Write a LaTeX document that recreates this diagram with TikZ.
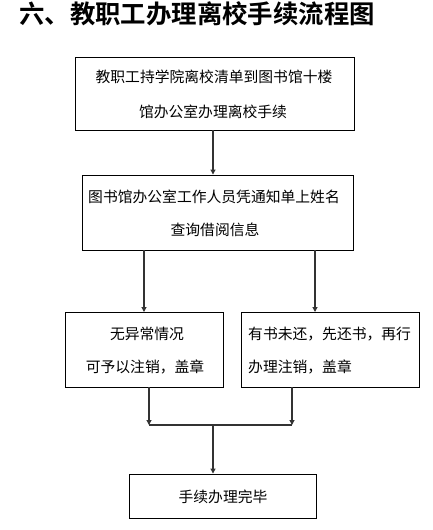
\documentclass[tikz,border=0pt]{standalone}
\usepackage{fontspec}
\setmainfont{Noto Sans CJK SC}
\newfontfamily\titlefont{Noto Sans CJK SC Bold}
\usetikzlibrary{arrows.meta}
\begin{document}
\begin{tikzpicture}[x=1pt,y=-1pt,
  box/.style={draw=black,line width=0.9pt,inner sep=0pt},
  txt/.style={font=\fontsize{14.8}{14.8}\selectfont,inner sep=0pt,anchor=center},
  conn/.style={draw=black!80,line width=1.1pt},
  arr/.style={conn,-{Triangle[length=5pt,width=5pt]}}]
\useasboundingbox (0,0) rectangle (433,530);
\node[anchor=west,inner sep=0pt,font=\titlefont\fontsize{25.4}{25.4}\selectfont] (title) at (19,14) {六、教职工办理离校手续流程图};
% boxes
\node[box,minimum width=279pt,minimum height=73pt] (b1) at (214.5,93.5) {};
\node[txt] (t1a) at (214,77) {教职工持学院离校清单到图书馆十楼};
\node[txt] (t1b) at (213,112) {馆办公室办理离校手续};
\node[box,minimum width=271pt,minimum height=75pt] (b2) at (217.5,212.5) {};
\node[txt] (t2a) at (214,197) {图书馆办公室工作人员凭通知单上姓名};
\node[txt] (t2b) at (215,230) {查询借阅信息};
\node[box,minimum width=158pt,minimum height=75pt] (b3) at (144,349.5) {};
\node[txt] (t3a) at (147,334) {无异常情况};
\node[txt] (t3b) at (145,367) {可予以注销，盖章};
\node[box,minimum width=178pt,minimum height=75pt] (b4) at (330,349.5) {};
\node[txt,anchor=west] (t4a) at (248,334) {有书未还，先还书，再行};
\node[txt,anchor=west] (t4b) at (248,367) {办理注销，盖章};
\node[box,minimum width=187pt,minimum height=44pt] (b5) at (222.5,496) {};
\node[txt] (t5) at (223,497) {手续办理完毕};
% connectors
\coordinate (j1) at (149,425);
\coordinate (j2) at (292,425);
\coordinate (jm) at (213,425);
\draw[arr] (b1.south -| jm) -- (b2.north -| jm);
\draw[arr] (144,250) -- (144,312);
\draw[arr] (315,250) -- (315,312);
\draw[arr] (149,387) -- (j1);
\draw[arr] (292,387) -- (j2);
\draw[conn] (j1) -- (j2);
\draw[arr] (jm) -- (b5.north -| jm);
\end{tikzpicture}
\end{document}
